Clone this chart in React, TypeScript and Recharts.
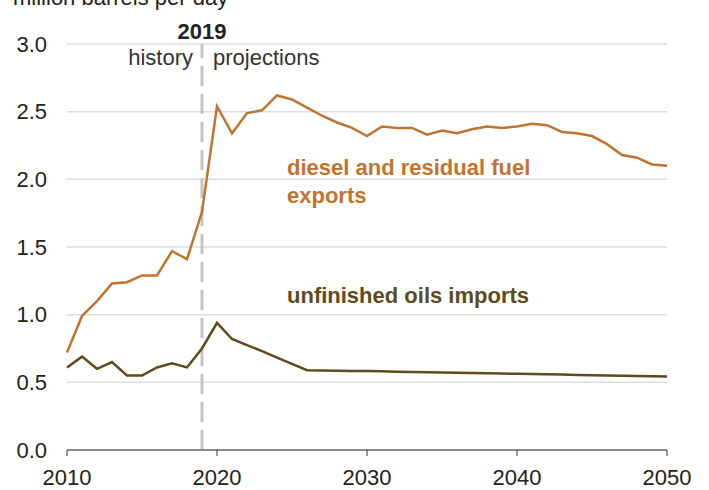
import { CartesianGrid, Line, LineChart, ReferenceLine, XAxis, YAxis } from "recharts";

const years = [
  2010, 2011, 2012, 2013, 2014, 2015, 2016, 2017, 2018, 2019,
  2020, 2021, 2022, 2023, 2024, 2025, 2026, 2027, 2028, 2029,
  2030, 2031, 2032, 2033, 2034, 2035, 2036, 2037, 2038, 2039,
  2040, 2041, 2042, 2043, 2044, 2045, 2046, 2047, 2048, 2049, 2050,
];

const dieselExports = [
  0.72, 0.99, 1.1, 1.23, 1.24, 1.29, 1.29, 1.47, 1.41, 1.76,
  2.54, 2.34, 2.49, 2.51, 2.62, 2.59, 2.53, 2.47, 2.42, 2.38,
  2.32, 2.39, 2.38, 2.38, 2.33, 2.36, 2.34, 2.37, 2.39, 2.38,
  2.39, 2.41, 2.4, 2.35, 2.34, 2.32, 2.26, 2.18, 2.16, 2.11, 2.1,
];

const unfinishedImports = [
  0.61, 0.69, 0.6, 0.65, 0.55, 0.55, 0.61, 0.64, 0.61, 0.75,
  0.94, 0.82, 0.775, 0.73, 0.683, 0.637, 0.59, 0.588, 0.586, 0.584,
  0.583, 0.581, 0.579, 0.577, 0.575, 0.573, 0.571, 0.569, 0.567, 0.565,
  0.563, 0.561, 0.559, 0.557, 0.555, 0.553, 0.551, 0.549, 0.547, 0.545, 0.543,
];

const xTicks = [2010, 2020, 2030, 2040, 2050];
const yTicks = [0, 0.5, 1, 1.5, 2, 2.5, 3];

const data = years.map((year, i) => ({
  year,
  diesel: dieselExports[i],
  unfinished: unfinishedImports[i],
}));

const FONT = "'Liberation Sans', Arial, sans-serif";
const ORANGE = "#bf7431";
const OLIVE = "#5e4b1d";

function DividerLabel(props: any) {
  const x = props.viewBox?.x ?? 0;
  return (
    <g fontFamily={FONT}>
      <text x={x} y={39} textAnchor="middle" fontSize={22} fontWeight="bold" fill="#222">
        2019
      </text>
      <text x={x - 9} y={65} textAnchor="end" fontSize={22} fill="#333">
        history
      </text>
      <text x={x + 11} y={65} textAnchor="start" fontSize={22} fill="#333">
        projections
      </text>
    </g>
  );
}

export default function App() {
  return (
    <div style={{ position: "absolute", left: 0, top: 0, width: 709, height: 490, background: "#fff" }}>
      <LineChart
        width={709}
        height={490}
        data={data}
        margin={{ top: 44, right: 42, bottom: 0, left: 7 }}
      >
        <CartesianGrid vertical={false} stroke="#dedede" strokeWidth={1.5} />
        <XAxis
          dataKey="year"
          type="number"
          domain={[2010, 2050]}
          ticks={xTicks}
          height={40}
          tickSize={6}
          tickMargin={13}
          stroke="#333"
          tick={{ fontSize: 22, fill: "#222", fontFamily: FONT }}
        />
        <YAxis
          domain={[0, 3]}
          ticks={yTicks}
          width={60}
          axisLine={false}
          tickLine={false}
          tickSize={0}
          tickMargin={20}
          tickFormatter={(v: number) => v.toFixed(1)}
          tick={{ fontSize: 22, fill: "#222", fontFamily: FONT }}
        />
        <ReferenceLine
          x={2019}
          stroke="#c4c4c6"
          strokeWidth={3}
          strokeDasharray="20 8"
          label={<DividerLabel />}
        />
        <Line
          dataKey="diesel"
          stroke={ORANGE}
          strokeWidth={2.5}
          dot={false}
          isAnimationActive={false}
        />
        <Line
          dataKey="unfinished"
          stroke={OLIVE}
          strokeWidth={2.5}
          dot={false}
          isAnimationActive={false}
        />
      </LineChart>
      <svg
        width={709}
        height={490}
        style={{ position: "absolute", left: 0, top: 0, pointerEvents: "none" }}
        fontFamily={FONT}
      >
        <text x={13} y={5} fontSize={22} fill="#222">
          million barrels per day
        </text>
        <text x={287} y={175} fontSize={22} fontWeight="bold" fill={ORANGE}>
          diesel and residual fuel
        </text>
        <text x={287} y={203} fontSize={22} fontWeight="bold" fill={ORANGE}>
          exports
        </text>
        <text x={287} y={303} fontSize={22} fontWeight="bold" fill={OLIVE}>
          unfinished oils imports
        </text>
      </svg>
    </div>
  );
}
